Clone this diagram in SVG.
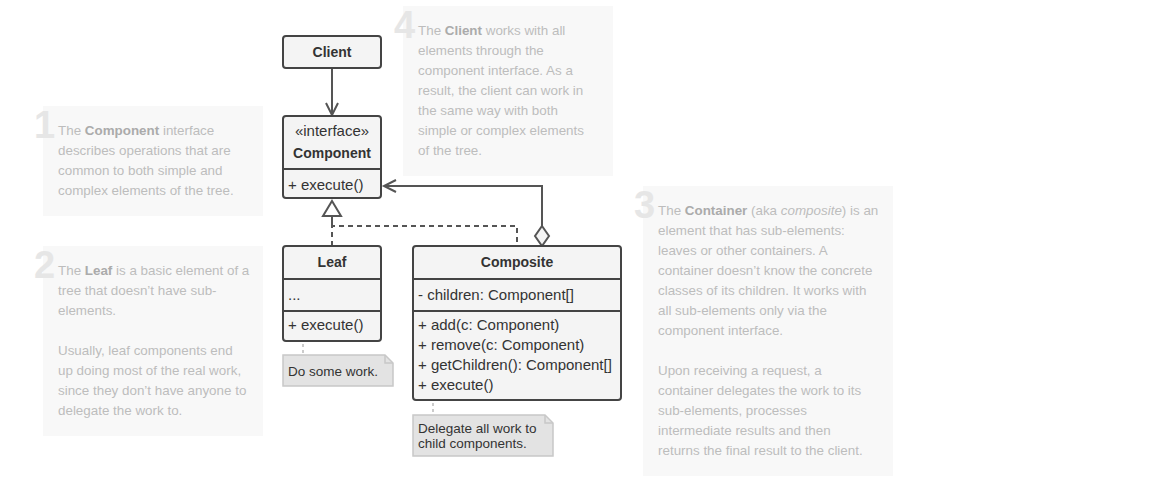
<svg xmlns="http://www.w3.org/2000/svg" width="1167" height="501" viewBox="0 0 1167 501">
<defs>
<style>
.panel{fill:#f8f8f8}
.num{font-family:"Liberation Sans",Arial,sans-serif;font-size:38px;font-weight:bold;fill:#e6e6e6}
.ann{font-family:"Liberation Sans",Arial,sans-serif;font-size:13.4px;fill:#bdbdbd}
.ann .b{font-weight:bold;fill:#ababab}
.box{fill:#f4f4f4;stroke:#444;stroke-width:2}
.div{stroke:#444;stroke-width:2}
.t{font-family:"Liberation Sans",Arial,sans-serif;font-size:15px;fill:#333}
.tb{font-family:"Liberation Sans",Arial,sans-serif;font-size:14px;font-weight:bold;fill:#333;text-anchor:middle}
.tc{text-anchor:middle}
.note{fill:#e3e3e3;stroke:#c8c8c8;stroke-width:1.5}
.nt{font-family:"Liberation Sans",Arial,sans-serif;font-size:13.5px;fill:#333}
.line{fill:none;stroke:#555;stroke-width:2}
.dash{fill:none;stroke:#555;stroke-width:2;stroke-dasharray:5,4}
.ndash{fill:none;stroke:#bbb;stroke-width:1.5;stroke-dasharray:3,3}
</style>
</defs>

<g id="annotation1">
<rect class="panel" x="43" y="106" width="220" height="110"/>
<text class="num" x="34" y="138">1</text>
<text class="ann" x="58" y="135"><tspan>The </tspan><tspan class="b">Component</tspan><tspan> interface</tspan></text>
<text class="ann" x="58" y="155">describes operations that are</text>
<text class="ann" x="58" y="175">common to both simple and</text>
<text class="ann" x="58" y="195">complex elements of the tree.</text>
</g>

<g id="annotation2">
<rect class="panel" x="43" y="246" width="220" height="190"/>
<text class="num" x="34" y="278">2</text>
<text class="ann" x="58" y="275"><tspan>The </tspan><tspan class="b">Leaf</tspan><tspan> is a basic element of a</tspan></text>
<text class="ann" x="58" y="295">tree that doesn’t have sub-</text>
<text class="ann" x="58" y="315">elements.</text>
<text class="ann" x="58" y="355">Usually, leaf components end</text>
<text class="ann" x="58" y="375">up doing most of the real work,</text>
<text class="ann" x="58" y="395">since they don’t have anyone to</text>
<text class="ann" x="58" y="415">delegate the work to.</text>
</g>

<g id="annotation4">
<rect class="panel" x="403" y="6" width="210" height="170"/>
<text class="num" x="394" y="38">4</text>
<text class="ann" x="418" y="35"><tspan>The </tspan><tspan class="b">Client</tspan><tspan> works with all</tspan></text>
<text class="ann" x="418" y="55">elements through the</text>
<text class="ann" x="418" y="75">component interface. As a</text>
<text class="ann" x="418" y="95">result, the client can work in</text>
<text class="ann" x="418" y="115">the same way with both</text>
<text class="ann" x="418" y="135">simple or complex elements</text>
<text class="ann" x="418" y="155">of the tree.</text>
</g>

<g id="annotation3">
<rect class="panel" x="643" y="186" width="250" height="290"/>
<text class="num" x="634" y="218">3</text>
<text class="ann" x="658" y="215"><tspan>The </tspan><tspan class="b">Container</tspan><tspan> (aka </tspan><tspan font-style="italic">composite</tspan><tspan>) is an</tspan></text>
<text class="ann" x="658" y="235">element that has sub-elements:</text>
<text class="ann" x="658" y="255">leaves or other containers. A</text>
<text class="ann" x="658" y="275">container doesn’t know the concrete</text>
<text class="ann" x="658" y="295">classes of its children. It works with</text>
<text class="ann" x="658" y="315">all sub-elements only via the</text>
<text class="ann" x="658" y="335">component interface.</text>
<text class="ann" x="658" y="375">Upon receiving a request, a</text>
<text class="ann" x="658" y="395">container delegates the work to its</text>
<text class="ann" x="658" y="415">sub-elements, processes</text>
<text class="ann" x="658" y="435">intermediate results and then</text>
<text class="ann" x="658" y="455">returns the final result to the client.</text>
</g>

<g id="connectors">
<line class="line" x1="332" y1="68" x2="332" y2="115"/>
<polyline class="line" points="326,103 332,115 338,103"/>
<polyline class="line" points="542,226 542,186 384,186"/>
<polyline class="line" points="396,180 384,186 396,192"/>
<polygon points="542,226 549,236 542,246 535,236" fill="#f4f4f4" stroke="#555" stroke-width="2"/>
<polyline class="dash" points="332,246 332,226 517,226 517,246"/>
<line class="line" x1="332" y1="216" x2="332" y2="226"/>
<polygon points="332,201 341,216 323,216" fill="#fff" stroke="#555" stroke-width="2"/>
<line class="ndash" x1="303" y1="344" x2="303" y2="355"/>
<line class="ndash" x1="433" y1="403" x2="433" y2="415"/>
</g>

<g id="client">
<rect class="box" x="283" y="36" width="98" height="32" rx="3"/>
<text class="tb" x="332" y="57">Client</text>
</g>

<g id="component">
<rect class="box" x="283" y="116" width="98" height="82" rx="3"/>
<line class="div" x1="283" y1="169" x2="381" y2="169"/>
<text class="t tc" x="332" y="136">«interface»</text>
<text class="tb" x="332" y="158">Component</text>
<text class="t" x="288" y="190">+ execute()</text>
</g>

<g id="leaf">
<rect class="box" x="283" y="246" width="98" height="95" rx="3"/>
<line class="div" x1="283" y1="279" x2="381" y2="279"/>
<line class="div" x1="283" y1="311" x2="381" y2="311"/>
<text class="tb" x="332" y="267">Leaf</text>
<text class="t" x="288" y="300">...</text>
<text class="t" x="288" y="330">+ execute()</text>
</g>

<g id="composite">
<rect class="box" x="413" y="246" width="208" height="154" rx="3"/>
<line class="div" x1="413" y1="279" x2="621" y2="279"/>
<line class="div" x1="413" y1="311" x2="621" y2="311"/>
<text class="tb" x="517" y="267">Composite</text>
<text class="t" x="418" y="300">- children: Component[]</text>
<text class="t" x="418" y="330">+ add(c: Component)</text>
<text class="t" x="418" y="350">+ remove(c: Component)</text>
<text class="t" x="418" y="370">+ getChildren(): Component[]</text>
<text class="t" x="418" y="390">+ execute()</text>
</g>

<g id="note-leaf">
<path class="note" d="M283,355 H385 L393,363 V386 H283 Z"/>
<path d="M385,355 V363 H393" fill="none" stroke="#c8c8c8" stroke-width="1.5"/>
<text class="nt" x="288" y="376">Do some work.</text>
</g>

<g id="note-composite">
<path class="note" d="M413,415 H545 L553,423 V456 H413 Z"/>
<path d="M545,415 V423 H553" fill="none" stroke="#c8c8c8" stroke-width="1.5"/>
<text class="nt" x="418" y="433">Delegate all work to</text>
<text class="nt" x="418" y="448">child components.</text>
</g>
</svg>
